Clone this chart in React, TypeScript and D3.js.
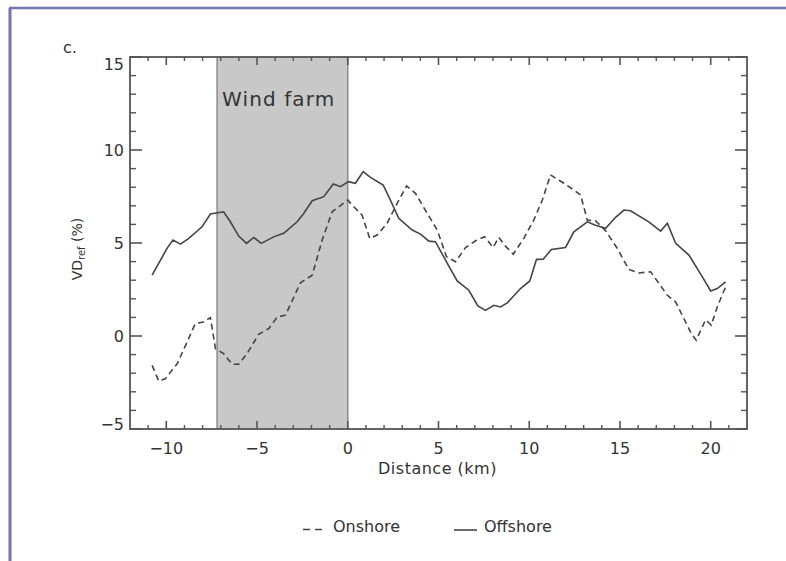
import React from "react";
import * as d3 from "d3";

const offshoreX = [-10.78,-9.96,-9.63,-9.22,-8.76,-8.03,-7.57,-6.84,-6.47,-6.01,-5.58,-5.18,-4.77,-4.08,-3.53,-2.79,-2.43,-1.96,-1.32,-0.80,-0.40,0.03,0.42,0.85,1.25,1.95,2.35,2.81,3.55,4.01,4.47,4.83,5.57,6.03,6.67,7.17,7.59,8.05,8.42,8.79,9.52,10.03,10.40,10.77,11.22,12.00,12.46,13.20,13.65,14.21,14.76,15.22,15.58,16.59,17.24,17.61,18.07,18.80,19.54,20.00,20.36,20.82];
const offshoreY = [3.27,4.71,5.16,4.94,5.25,5.87,6.56,6.68,6.14,5.37,4.98,5.30,4.98,5.33,5.52,6.14,6.59,7.27,7.49,8.17,8.03,8.30,8.21,8.84,8.53,8.12,7.31,6.33,5.70,5.48,5.10,5.07,3.76,2.96,2.46,1.62,1.38,1.65,1.56,1.78,2.55,2.96,4.12,4.13,4.65,4.76,5.60,6.14,5.96,5.79,6.38,6.77,6.73,6.14,5.64,6.06,4.98,4.35,3.18,2.42,2.55,2.91];
const onshoreX = [-10.78,-10.42,-10.05,-9.40,-8.85,-8.40,-7.94,-7.57,-7.29,-6.84,-6.37,-6.01,-5.55,-4.91,-4.35,-3.89,-3.43,-2.61,-1.96,-1.41,-0.86,0.00,0.33,0.79,1.21,1.62,2.17,2.72,3.24,3.73,4.38,4.93,5.44,5.94,6.49,7.04,7.54,8.01,8.32,8.69,9.12,9.70,10.25,10.72,11.17,11.91,12.46,12.83,13.20,13.65,14.21,14.85,15.49,16.04,16.69,17.15,17.61,18.07,18.52,18.93,19.20,19.72,20.03,20.36,20.82];
const onshoreY = [-1.58,-2.42,-2.30,-1.49,-0.32,0.67,0.75,0.99,-0.68,-0.95,-1.52,-1.52,-0.95,0.09,0.40,1.02,1.12,2.86,3.27,5.16,6.68,7.31,6.95,6.50,5.25,5.43,6.06,7.13,8.07,7.67,6.59,5.70,4.26,3.99,4.76,5.12,5.34,4.76,5.30,4.83,4.40,5.25,6.23,7.31,8.66,8.21,7.85,7.58,6.23,6.20,5.66,4.71,3.58,3.39,3.45,2.82,2.19,1.83,0.94,0.13,-0.23,0.88,0.58,1.56,2.64];

const xDomain = [-12, 22];
const yDomain = [-5, 15];
const xMajorTicks = [-10, -5, 0, 5, 10, 15, 20];
const yMajorTicks = [-5, 0, 5, 10, 15];
const windFarm = [-7.2, 0];
const windFarmLabel = "Wind farm";
const panelLabel = "c.";
const xTitle = "Distance (km)";
const legendLabels = ["Onshore", "Offshore"];

const FONT = "'DejaVu Sans', sans-serif";
const TXT = "#333";

export default function App() {
  const L = 130, R = 747, T = 57, B = 429;
  const x = d3.scaleLinear().domain(xDomain).range([L, R]);
  const y = d3.scaleLinear().domain(yDomain).range([B, T]);
  const xMinor = d3.range(xDomain[0], xDomain[1] + 1, 1).filter((v) => !xMajorTicks.includes(v) && v > xDomain[0] && v < xDomain[1]);
  const yMinor = d3.range(yDomain[0], yDomain[1] + 1, 1).filter((v) => !yMajorTicks.includes(v));
  const line = d3.line<[number, number]>().x((d) => x(d[0])).y((d) => y(d[1]));
  const off = offshoreX.map((v, i) => [v, offshoreY[i]] as [number, number]);
  const on = onshoreX.map((v, i) => [v, onshoreY[i]] as [number, number]);
  const ax = "#555";
  const fmt = (v: number) => (v < 0 ? "\u2212" + Math.abs(v) : String(v));
  const yLabelBaseline = (v: number) => (v === yDomain[1] ? y(v) + 13 : v === yDomain[0] ? y(v) + 1 : y(v) + 6);

  return (
    <svg width={786} height={561} style={{ position: "absolute", left: 0, top: 0, background: "#fff" }}>
      <rect x={0} y={0} width={786} height={561} fill="#fff" />
      <line x1={10} y1={8} x2={10} y2={561} stroke="#7474b0" strokeWidth={3} />
      <line x1={9} y1={8} x2={786} y2={8} stroke="#7474b0" strokeWidth={2.5} />

      <rect x={x(windFarm[0])} y={T} width={x(windFarm[1]) - x(windFarm[0])} height={B - T} fill="#c8c8c8" />
      <line x1={x(windFarm[0])} x2={x(windFarm[0])} y1={T} y2={B} stroke="#8a8a8a" strokeWidth={1.5} />
      <line x1={x(windFarm[1])} x2={x(windFarm[1])} y1={T} y2={B} stroke="#8a8a8a" strokeWidth={1.5} />
      <text x={x(windFarm[0]) + 5} y={106} fontFamily={FONT} fontSize={20} letterSpacing={1.1} fill={TXT}>{windFarmLabel}</text>

      <path d={line(on) || ""} fill="none" stroke="#444" strokeWidth={1.6} strokeDasharray="6,4" />
      <path d={line(off) || ""} fill="none" stroke="#444" strokeWidth={1.6} />

      <rect x={L} y={T} width={R - L} height={B - T} fill="none" stroke={ax} strokeWidth={1.8} />
      {xMajorTicks.map((v) => (
        <g key={"xM" + v}>
          <line x1={x(v)} x2={x(v)} y1={B} y2={B - 8} stroke={ax} strokeWidth={1.6} />
          <line x1={x(v)} x2={x(v)} y1={T} y2={T + 8} stroke={ax} strokeWidth={1.6} />
          <text x={x(v)} y={454} textAnchor="middle" fontFamily={FONT} fontSize={16} fill={TXT}>{fmt(v)}</text>
        </g>
      ))}
      {xMinor.map((v) => (
        <g key={"xm" + v}>
          <line x1={x(v)} x2={x(v)} y1={B} y2={B - 4} stroke={ax} strokeWidth={1.4} />
          <line x1={x(v)} x2={x(v)} y1={T} y2={T + 4} stroke={ax} strokeWidth={1.4} />
        </g>
      ))}
      {yMajorTicks.map((v) => (
        <g key={"yM" + v}>
          <line x1={L} x2={L + 12} y1={y(v)} y2={y(v)} stroke={ax} strokeWidth={1.6} />
          <line x1={R} x2={R - 12} y1={y(v)} y2={y(v)} stroke={ax} strokeWidth={1.6} />
          <text x={124} y={yLabelBaseline(v)} textAnchor="end" fontFamily={FONT} fontSize={16} fill={TXT}>{fmt(v)}</text>
        </g>
      ))}
      {yMinor.map((v) => (
        <g key={"ym" + v}>
          <line x1={L} x2={L + 6} y1={y(v)} y2={y(v)} stroke={ax} strokeWidth={1.4} />
          <line x1={R} x2={R - 6} y1={y(v)} y2={y(v)} stroke={ax} strokeWidth={1.4} />
        </g>
      ))}

      <text x={63} y={53} fontFamily={FONT} fontSize={16} fill={TXT}>{panelLabel}</text>
      <text x={(L + R) / 2 - 1} y={474} textAnchor="middle" fontFamily={FONT} fontSize={16} letterSpacing={0.5} fill={TXT}>{xTitle}</text>
      <text transform={`translate(82,249) rotate(-90)`} textAnchor="middle" fontFamily={FONT} fontSize={14} fill={TXT}>
        VD<tspan fontSize={10} dy={3}>ref</tspan><tspan dy={-3}> (%)</tspan>
      </text>

      <line x1={303} x2={323} y1={529.5} y2={529.5} stroke="#444" strokeWidth={1.6} strokeDasharray="7,5" />
      <text x={333} y={532} fontFamily={FONT} fontSize={16} fill={TXT}>{legendLabels[0]}</text>
      <line x1={454} x2={477} y1={530} y2={530} stroke="#444" strokeWidth={1.6} />
      <text x={484} y={532} fontFamily={FONT} fontSize={16} fill={TXT}>{legendLabels[1]}</text>
    </svg>
  );
}
